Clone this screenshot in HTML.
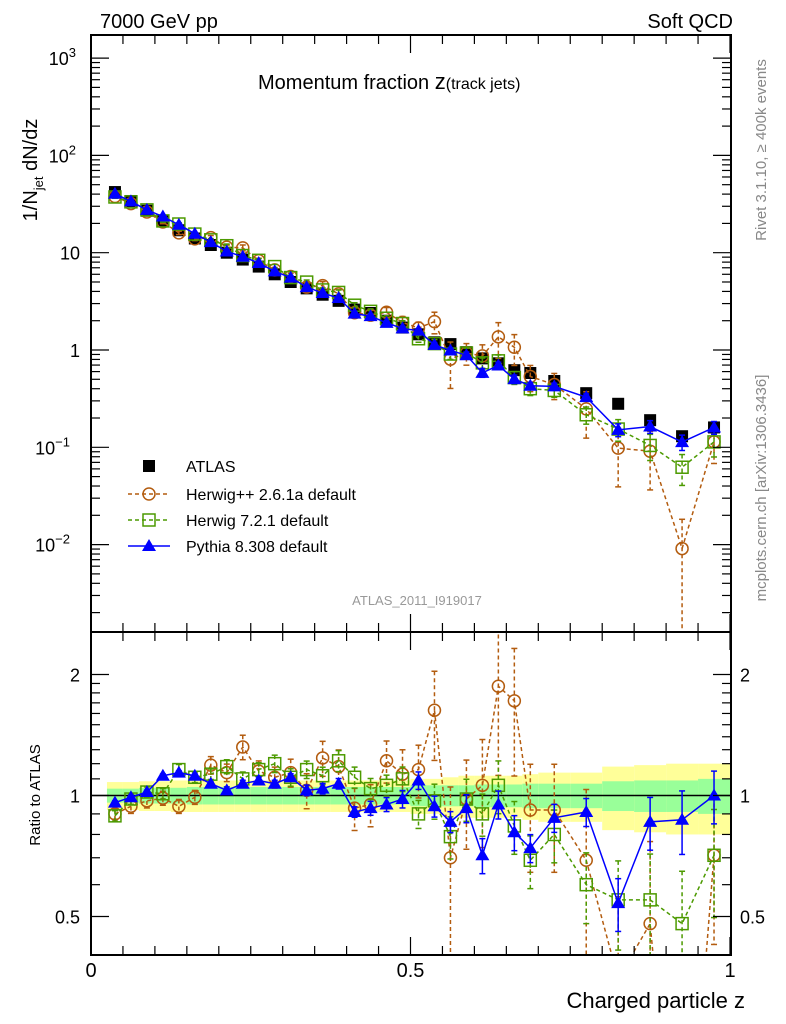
<!DOCTYPE html>
<html><head><meta charset="utf-8"><style>
html,body{margin:0;padding:0;background:#fff;overflow:hidden;width:786px;height:1024px;}
svg{display:block;}
svg text{font-family:"Liberation Sans",sans-serif;}
</style></head><body>
<svg id="chart" width="786" height="1024" xmlns="http://www.w3.org/2000/svg">
<defs>
<clipPath id="cm"><rect x="91" y="35" width="640" height="597"/></clipPath>
<clipPath id="cr"><rect x="91" y="632" width="640" height="323"/></clipPath>
</defs>
<g id="bands" clip-path="url(#cr)"></g>
<g id="marks"></g>
<g id="axes"></g>
<text x="100" y="28" font-size="20">7000 GeV pp</text>
<text x="733" y="28" font-size="20" text-anchor="end">Soft QCD</text>
<text x="258" y="89" font-size="20">Momentum fraction <tspan font-size="22">z</tspan><tspan font-size="16">(track jets)</tspan></text>
<text transform="translate(37,170) rotate(-90)" font-size="20" text-anchor="middle">1/N<tspan font-size="13" dy="6">jet</tspan><tspan dy="-6"> dN/dz</tspan></text>
<text transform="translate(40,795) rotate(-90)" font-size="15" text-anchor="middle">Ratio to ATLAS</text>
<text x="745" y="1008" font-size="22" text-anchor="end">Charged particle z</text>
<text transform="translate(766,150) rotate(-90)" font-size="15" fill="#888" text-anchor="middle">Rivet 3.1.10, ≥ 400k events</text>
<text transform="translate(766,488) rotate(-90)" font-size="15" fill="#888" text-anchor="middle">mcplots.cern.ch [arXiv:1306.3436]</text>
<text x="417" y="605" font-size="13" fill="#999" text-anchor="middle">ATLAS_2011_I919017</text>
<g id="legend"></g>
</svg>
<script>
const zCenters=[0.0375,0.0625,0.0875,0.1125,0.1375,0.1625,0.1875,0.2125,0.2375,0.2625,0.2875,0.3125,0.3375,0.3625,0.3875,0.4125,0.4375,0.4625,0.4875,0.5125,0.5375,0.5625,0.5875,0.6125,0.6375,0.6625,0.6875,0.725,0.775,0.825,0.875,0.925,0.975];
const atlasValues=[42,34,27,21,17,14,12,10,8.5,7.2,6.0,5.0,4.3,3.7,3.2,2.6,2.4,2.0,1.7,1.45,1.2,1.15,0.95,0.82,0.73,0.62,0.58,0.48,0.36,0.28,0.19,0.13,0.16];
const herwigppRatio=[0.90,0.94,0.97,0.985,0.94,0.99,1.19,1.14,1.32,1.15,1.11,1.14,1.03,1.24,1.18,0.93,0.95,1.22,1.13,1.16,1.63,0.70,0.98,1.06,1.87,1.72,0.92,0.92,0.69,0.35,0.48,0.07,0.71];
const herwig7Ratio=[0.89,0.98,1.02,1.01,1.16,1.11,1.13,1.18,1.10,1.16,1.20,1.11,1.16,1.12,1.22,1.11,1.04,1.06,1.10,0.90,0.97,0.79,0.98,0.90,1.06,0.84,0.69,0.80,0.60,0.55,0.55,0.48,0.71];
const pythiaRatio=[0.96,0.99,1.02,1.12,1.14,1.12,1.07,1.03,1.07,1.09,1.07,1.11,1.03,1.04,1.07,0.91,0.93,0.95,0.98,1.09,0.94,0.86,0.93,0.71,0.95,0.81,0.74,0.88,0.91,0.54,0.86,0.87,1.00];
const herwigppErr=[0.03,0.04,0.04,0.04,0.04,0.04,0.05,0.05,0.07,0.06,0.06,0.08,0.10,0.10,0.10,0.12,0.12,0.12,0.15,0.15,0.25,0.5,0.25,0.3,0.4,0.35,0.3,0.3,0.5,0.6,0.6,1.0,0.4];
const herwig7Err=[0.03,0.03,0.03,0.03,0.03,0.03,0.03,0.04,0.04,0.04,0.05,0.05,0.05,0.05,0.06,0.06,0.06,0.06,0.07,0.08,0.10,0.12,0.12,0.12,0.15,0.15,0.15,0.15,0.2,0.25,0.3,0.35,0.3];
const pythiaErr=[0.01,0.01,0.01,0.01,0.01,0.01,0.01,0.02,0.02,0.02,0.02,0.02,0.03,0.03,0.03,0.03,0.04,0.04,0.05,0.05,0.06,0.06,0.08,0.10,0.08,0.10,0.08,0.08,0.08,0.15,0.15,0.18,0.15];
const bandInner=[0.04,0.04,0.045,0.045,0.045,0.05,0.05,0.05,0.05,0.05,0.05,0.05,0.05,0.05,0.05,0.05,0.05,0.05,0.05,0.06,0.06,0.06,0.06,0.065,0.065,0.065,0.07,0.07,0.07,0.085,0.09,0.09,0.10];
const bandOuter=[0.08,0.08,0.085,0.085,0.09,0.09,0.09,0.09,0.09,0.09,0.09,0.09,0.09,0.09,0.09,0.09,0.09,0.09,0.09,0.10,0.10,0.11,0.12,0.12,0.12,0.12,0.13,0.14,0.14,0.18,0.19,0.20,0.20];
const binEdges=[0.025,0.05,0.075,0.1,0.125,0.15,0.175,0.2,0.225,0.25,0.275,0.3,0.325,0.35,0.375,0.4,0.425,0.45,0.475,0.5,0.525,0.55,0.575,0.6,0.625,0.65,0.675,0.7,0.75,0.8,0.85,0.9,0.95,1.0];
const mainYTicks=[1000,100,10,1,0.1,0.01];
const ratioYTicks=[2,1,0.5];
const xTicks=[0,0.5,1];

const NS='http://www.w3.org/2000/svg';
const X=z=>91+z*639;
const Y=v=>350-97.3*Math.log10(v);
const R=r=>795.5-121*Math.log2(r);
function el(tag,attrs,parent){const e=document.createElementNS(NS,tag);for(const k in attrs)e.setAttribute(k,attrs[k]);parent.appendChild(e);return e;}
const marks=document.getElementById('marks');
const axes=document.getElementById('axes');
const bands=document.getElementById('bands');

for(let i=0;i<zCenters.length;i++){
  const x0=X(binEdges[i]),x1=X(binEdges[i+1]);
  const a=el('rect',{x:x0,y:R(1+bandOuter[i]),width:x1-x0,height:R(1-bandOuter[i])-R(1+bandOuter[i]),fill:'#ffff99'},bands);
  
  
  const b=el('rect',{x:x0,y:R(1+bandInner[i]),width:x1-x0,height:R(1-bandInner[i])-R(1+bandInner[i]),fill:'#99ff99'},bands);
  
  
}
el('line',{x1:91,x2:731,y1:R(1),y2:R(1),stroke:'#000','stroke-width':1.5},bands);

const series=[
 {name:'herwigpp',ratio:herwigppRatio,err:herwigppErr,color:'#b35c0f',dash:'4,3',shape:'circle'},
 {name:'herwig7',ratio:herwig7Ratio,err:herwig7Err,color:'#4c9a00',dash:'4,3',shape:'square'},
 {name:'pythia',ratio:pythiaRatio,err:pythiaErr,color:'#0000ff',dash:'',shape:'triangle'}
];
function marker(g,shape,x,y,color){
  if(shape==='circle')return el('circle',{cx:x,cy:y,r:6,fill:'none',stroke:color,'stroke-width':1.5},g);
  if(shape==='square')return el('rect',{x:x-6,y:y-6,width:12,height:12,fill:'none',stroke:color,'stroke-width':1.5},g);
  if(shape==='triangle')return el('polygon',{points:`${x},${y-7} ${x-7},${y+5} ${x+7},${y+5}`,fill:color},g);
  return el('rect',{x:x-6,y:y-6,width:12,height:12,fill:'#000'},g);
}
function drawPanel(clip,yf,valFn,isRatio){
  const g=el('g',{'clip-path':clip},marks);
  
  
  if(!isRatio){
    atlasValues.forEach((v,i)=>{
      const m=marker(g,'data',X(zCenters[i]),Y(v));
      
      
    });
  }
  series.forEach(s=>{
    const sg=el('g',{},g);
    
    
    const vals=s.ratio.map((r,i)=>valFn(r,i));
    const pts=vals.map((v,i)=>`${X(zCenters[i])},${yf(v)}`).join(' ');
    el('polyline',{points:pts,fill:'none',stroke:s.color,'stroke-width':1.5,'stroke-dasharray':s.dash},sg);
    vals.forEach((v,i)=>{
      const x=X(zCenters[i]);const e=s.err[i];
      const lo=Math.max(v*(1-e),1e-4),hi=v*(1+e);
      el('line',{x1:x,x2:x,y1:yf(hi),y2:yf(lo),stroke:s.color,'stroke-width':1.5,'stroke-dasharray':s.dash},sg);
      el('line',{x1:x-3,x2:x+3,y1:yf(hi),y2:yf(hi),stroke:s.color,'stroke-width':1.5},sg);
      el('line',{x1:x-3,x2:x+3,y1:yf(lo),y2:yf(lo),stroke:s.color,'stroke-width':1.5},sg);
      const m=marker(sg,s.shape,x,yf(v),s.color);
      
      
    });
  });
}
drawPanel('url(#cm)',Y,(r,i)=>r*atlasValues[i],false);
drawPanel('url(#cr)',R,(r,i)=>r,true);

el('rect',{x:91,y:35,width:640,height:597,fill:'none',stroke:'#000','stroke-width':2},axes);
el('rect',{x:91,y:632,width:640,height:323,fill:'none',stroke:'#000','stroke-width':2},axes);
for(let d=-3;d<=3;d++){
  for(let k=1;k<10;k++){
    const v=k*Math.pow(10,d);const y=Y(v);
    if(y<35||y>632)continue;
    const L=k===1?18:9;
    el('line',{x1:91,x2:91+L,y1:y,y2:y,stroke:'#000','stroke-width':1.2},axes);
    el('line',{x1:731,x2:731-L,y1:y,y2:y,stroke:'#000','stroke-width':1.2},axes);
  }
}
const mainLabels=['10<tspan dy="-8" font-size="13">3</tspan>','10<tspan dy="-8" font-size="13">2</tspan>','10','1','10<tspan dy="-8" font-size="13">−1</tspan>','10<tspan dy="-8" font-size="13">−2</tspan>'];
mainYTicks.forEach((v,i)=>{
  const t=el('text',{x:80,y:Y(v)+7,'font-size':18,'text-anchor':'end'},axes);
  t.innerHTML=mainLabels[i];
  if(i===0||i===1||i===4||i===5){t.setAttribute('x',i>3?70:76);}
  
  
});
[0.5,0.6,0.7,0.8,0.9,1,1.1,1.2,1.3,1.4,1.5,1.6,1.7,1.8,1.9,2].forEach(v=>{
  const y=R(v);const L=(v===0.5||v===1||v===2)?18:9;
  el('line',{x1:91,x2:91+L,y1:y,y2:y,stroke:'#000','stroke-width':1.2},axes);
  el('line',{x1:731,x2:731-L,y1:y,y2:y,stroke:'#000','stroke-width':1.2},axes);
});
ratioYTicks.forEach(v=>{
  const t=el('text',{x:80,y:R(v)+7,'font-size':18,'text-anchor':'end'},axes);
  t.textContent=String(v);
  
  
  const t2=el('text',{x:740,y:R(v)+7,'font-size':18},axes);
  t2.textContent=String(v);
  
  
});
for(let i=0;i<=20;i++){
  const z=i*0.05;const x=X(z);const L=(i%10===0)?18:9;
  [[35,1],[632,-1],[632,1],[955,-1]].forEach(([y0,s])=>{
    el('line',{x1:x,x2:x,y1:y0,y2:y0+s*L,stroke:'#000','stroke-width':1.2},axes);
  });
}
xTicks.forEach(z=>{
  const t=el('text',{x:X(z),y:977,'font-size':20,'text-anchor':'middle'},axes);
  t.textContent=String(z);
  
  
});
const lg=document.getElementById('legend');
const legendItems=[
 {label:'ATLAS',shape:'data',color:'#000',dash:null},
 {label:'Herwig++ 2.6.1a default',shape:'circle',color:'#b35c0f',dash:'4,3'},
 {label:'Herwig 7.2.1 default',shape:'square',color:'#4c9a00',dash:'4,3'},
 {label:'Pythia 8.308 default',shape:'triangle',color:'#0000ff',dash:''}
];
const legendY=[466,494,520,546];
legendItems.forEach((it,i)=>{
  const g=el('g',{},lg);
  
  
  const y=legendY[i];
  if(it.dash!==null)el('line',{x1:128,x2:170,y1:y,y2:y,stroke:it.color,'stroke-width':1.5,'stroke-dasharray':it.dash},g);
  marker(g,it.shape,149,y,it.color);
  const t=el('text',{x:186,y:y+6,'font-size':16},g);
  t.textContent=it.label;
});
</script>
</body></html>
